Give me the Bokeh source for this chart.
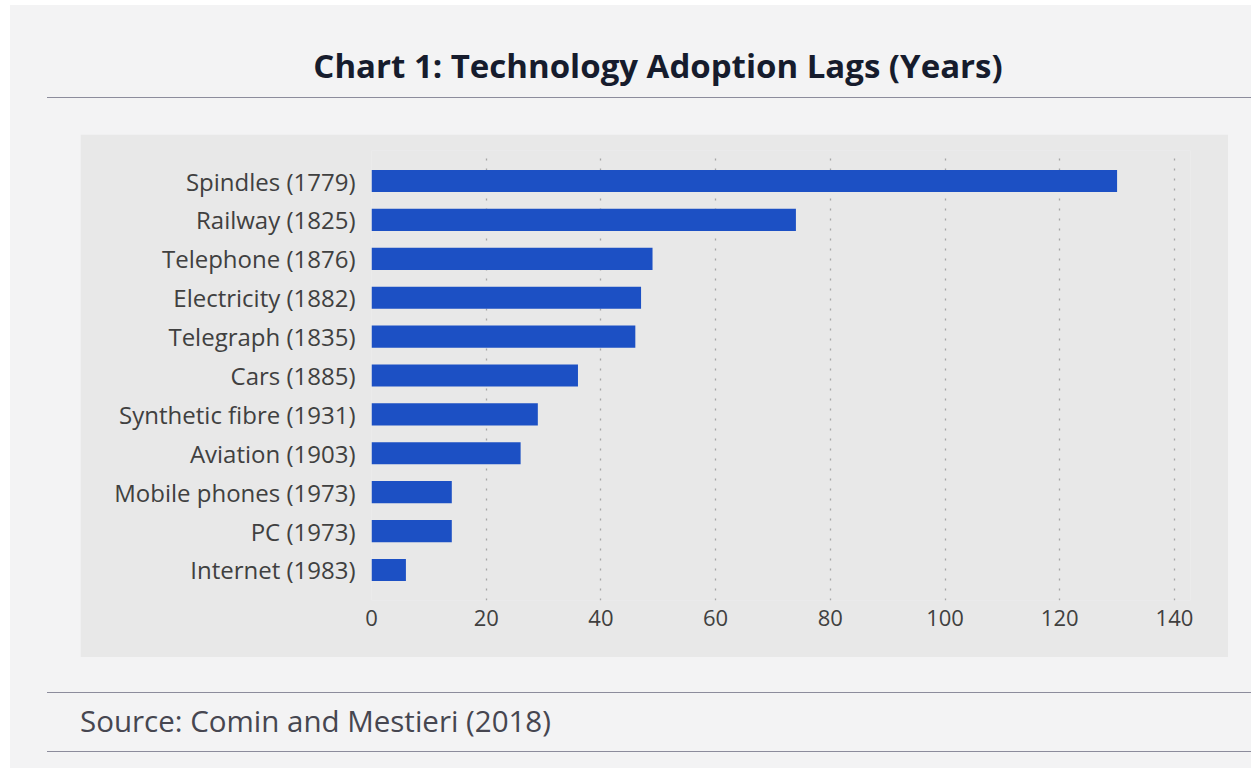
from bokeh.plotting import figure
from bokeh.models import FactorRange, Div
from bokeh.layouts import column
from bokeh.embed import file_html
from bokeh.resources import INLINE

# ---- data ----
categories = ["Spindles (1779)", "Railway (1825)", "Telephone (1876)", "Electricity (1882)",
              "Telegraph (1835)", "Cars (1885)", "Synthetic fibre (1931)", "Aviation (1903)",
              "Mobile phones (1973)", "PC (1973)", "Internet (1983)"]
lags = [130, 74, 49, 47, 46, 36, 29, 26, 14, 14, 6]
x_ticks = [0, 20, 40, 60, 80, 100, 120, 140]
title_text = "Chart 1: Technology Adoption Lags (Years)"
source_text = "Source: Comin and Mestieri (2018)"

PAGE_BG = "#f3f3f4"
BOX_BG = "#e8e8e8"
BAR = "#1c50c4"
RULE = "#8c8c9c"
FONT = "'Open Sans', sans-serif"

title_div = Div(
    text=(f'<div style="box-sizing:border-box;width:1204px;height:93px;'
          f'border-bottom:1.5px solid {RULE};padding-top:44px;padding-left:18px;'
          f'text-align:center;font-family:{FONT};font-weight:700;font-size:33px;'
          f'line-height:34px;color:#161c2d;white-space:nowrap;">{title_text}</div>'),
    width=1204, height=93, margin=(0, 0, 0, 37))

p = figure(width=1148, height=523, title=None,
           y_range=FactorRange(factors=categories[::-1], range_padding=0.285,
                               range_padding_units="absolute"),
           x_range=(0, 142.8),
           output_backend="svg", toolbar_location=None,
           min_border_left=291, min_border_right=38,
           min_border_top=16, min_border_bottom=57,
           border_fill_color=BOX_BG, background_fill_color=BOX_BG,
           outline_line_color=None, margin=(36, 0, 0, 70))

p.hbar(y=categories, right=lags, left=0, height=0.57, fill_color=BAR, line_color=None)

p.xaxis.ticker = x_ticks
for ax in (p.xaxis[0], p.yaxis[0]):
    ax.axis_line_color = None
    ax.major_tick_line_color = None
    ax.minor_tick_line_color = None
    ax.major_label_text_font = "Open Sans"
    ax.major_label_text_color = "#404040"
p.yaxis.major_label_text_font_size = "24px"
p.xaxis.major_label_text_font_size = "22px"
p.yaxis.major_label_standoff = 10
p.xaxis.major_label_standoff = 3

p.ygrid.grid_line_color = None
p.xgrid.grid_line_color = "#a6a6a6"
p.xgrid.grid_line_dash = "2 8"
p.xgrid.grid_line_width = 1.3

source_div = Div(
    text=(f'<div style="box-sizing:border-box;width:1204px;height:60px;'
          f'border-top:1.5px solid {RULE};border-bottom:1.5px solid {RULE};'
          f'padding-top:12px;padding-left:33px;font-family:{FONT};font-size:29.5px;'
          f'line-height:32px;color:#464650;white-space:nowrap;">{source_text}</div>'),
    width=1204, height=60, margin=(35, 0, 0, 37))

root = column(title_div, p, source_div, spacing=0, width=1241, height=763,
              margin=(5, 0, 0, 10), styles={"background-color": PAGE_BG})

open("out.html", "w").write(file_html(root, INLINE))
